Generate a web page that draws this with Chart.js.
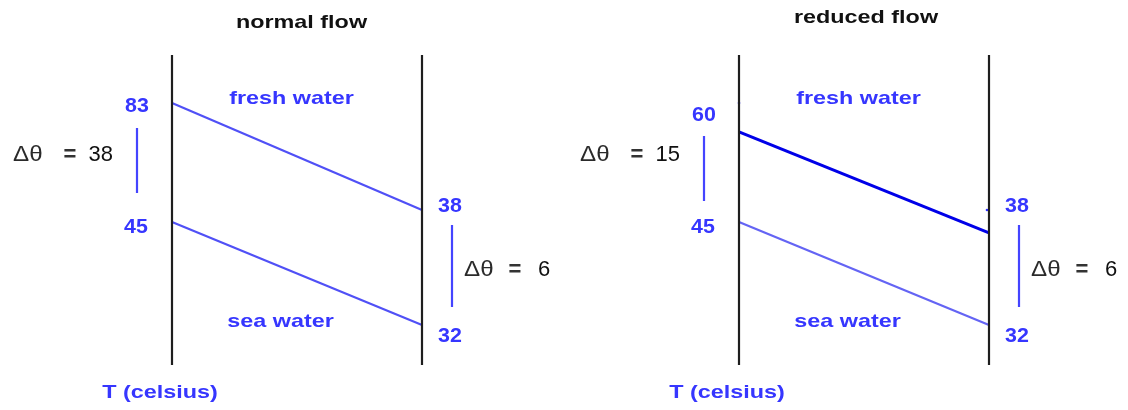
<!DOCTYPE html>
<html>
<head>
<meta charset="utf-8">
<script src="https://cdn.jsdelivr.net/npm/chart.js@4/dist/chart.umd.min.js"></script>
<style>
  html, body { margin: 0; padding: 0; background: #ffffff; }
  #wrap { width: 1128px; height: 410px; display: flex; }
  canvas { display: block; }
</style>
</head>
<body>
<div id="wrap">
  <canvas id="c0" width="564" height="410"></canvas>
  <canvas id="c1" width="564" height="410"></canvas>
</div>
<script>
// ---- data ----
const panelTitles   = ['normal flow', 'reduced flow'];
const freshInTemp   = [83, 60];   // fresh water inlet temperature (°C)
const freshOutTemp  = [38, 38];   // fresh water outlet temperature (°C)
const seaInTemp     = [45, 45];   // sea water temperature at left wall (°C)
const seaOutTemp    = [32, 32];   // sea water temperature at right wall (°C)
const deltaLeft     = [38, 15];   // Δθ at left wall
const deltaRight    = [6, 6];     // Δθ at right wall
// schematic vertical level of each line end (0 = bottom of walls, 100 = top)
const freshLevelIn  = [84.5, 75.2];
const freshLevelOut = [50.0, 42.6];
const seaLevelIn    = [46.1, 46.1];
const seaLevelOut   = [12.9, 12.9];
const wallX         = [0, 1];     // inlet wall, outlet wall
const wallLevels    = [0, 100];

const BLUE_TXT = '#3636ff';
const SX = 1.23;

function txt(ctx, s, x, y, font, color, align, sx) {
  ctx.save();
  ctx.font = font;
  ctx.fillStyle = color;
  ctx.textBaseline = 'alphabetic';
  ctx.textAlign = 'left';
  const w = ctx.measureText(s).width * sx;
  let x0 = x;
  if (align === 'center') x0 = x - w / 2;
  else if (align === 'right') x0 = x - w;
  ctx.translate(x0, y);
  ctx.scale(sx, 1);
  ctx.fillText(s, 0, 0);
  ctx.restore();
}

function makeChart(p) {
  const ctxEl = document.getElementById('c' + p);
  const datasets = [];
  wallX.forEach(function (wx, i) {
    datasets.push({
      label: i === 0 ? 'inlet wall' : 'outlet wall',
      data: wallLevels.map(function (lv) { return { x: wx, y: lv }; }),
      borderColor: '#1e1e1e', borderWidth: 2.2, pointRadius: 0, showLine: true, clip: false
    });
  });
  datasets.push({
    label: 'sea water',
    data: [{ x: wallX[0], y: seaLevelIn[p] }, { x: wallX[1], y: seaLevelOut[p] }],
    borderColor: p === 0 ? '#5050f6' : '#6464f4', borderWidth: 2.2, pointRadius: 0, showLine: true, clip: false
  });
  datasets.push({
    label: 'fresh water',
    data: [{ x: wallX[0], y: freshLevelIn[p] }, { x: wallX[1], y: freshLevelOut[p] }],
    borderColor: p === 0 ? '#5050f6' : '#0000e8', borderWidth: p === 0 ? 2.2 : 3, pointRadius: 0, showLine: true, clip: false
  });
  if (p === 1) {
    // faint remnants of the normal-flow fresh water line ends
    datasets.push({
      label: 'previous fresh water ends',
      data: [{ x: wallX[0], y: freshLevelIn[0] }, { x: wallX[1] - 0.008, y: freshLevelOut[0] }],
      borderColor: '#3030ff', backgroundColor: '#3030ff', pointRadius: 1.3, pointBorderWidth: 0, showLine: false, clip: false
    });
  }

  const pad = p === 0 ? { left: 172, right: 142, top: 55, bottom: 45 }
                      : { left: 175, right: 139, top: 55, bottom: 45 };

  const textPlugin = {
    id: 'labels' + p,
    afterDatasetsDraw: function (chart) {
      const ctx = chart.ctx;
      const L = chart.chartArea.left, R = chart.chartArea.right;
      const bold19 = 'bold 19px "Liberation Sans", Arial, sans-serif';
      const bold21 = 'bold 21px "Liberation Sans", Arial, sans-serif';
      const bold22 = 'bold 22px "Liberation Sans", Arial, sans-serif';
      const reg22 = '22px "Liberation Sans", Arial, sans-serif';
      // title
      txt(ctx, panelTitles[p], L + (p === 0 ? 129.5 : 127), p === 0 ? 28 : 23, bold19, '#111', 'center', SX);
      // stream names
      txt(ctx, 'fresh water', L + 119.5, 104, bold19, BLUE_TXT, 'center', SX);
      txt(ctx, 'sea water', L + 108.5, 327, bold19, BLUE_TXT, 'center', SX);
      txt(ctx, 'T (celsius)', L - 12, 398, bold19, BLUE_TXT, 'center', SX);
      // temperatures
      txt(ctx, String(freshInTemp[p]), L - 35, p === 0 ? 112 : 121, bold21, BLUE_TXT, 'center', 1.02);
      txt(ctx, String(seaInTemp[p]), L - 36, 232.5, bold21, BLUE_TXT, 'center', 1.02);
      txt(ctx, String(freshOutTemp[p]), R + 28, 211.5, bold21, BLUE_TXT, 'center', 1.02);
      txt(ctx, String(seaOutTemp[p]), R + 28, 341.5, bold21, BLUE_TXT, 'center', 1.02);
      // delta bars
      ctx.save();
      ctx.strokeStyle = '#4444ff';
      ctx.lineWidth = 2.2;
      const bxL = L - 35, bxR = R + 30;
      ctx.beginPath();
      ctx.moveTo(bxL, p === 0 ? 128 : 136); ctx.lineTo(bxL, p === 0 ? 193 : 201);
      ctx.moveTo(bxR, 225); ctx.lineTo(bxR, 307);
      ctx.stroke();
      ctx.restore();
      // Δθ left
      txt(ctx, 'Δθ', bxL - 124, 161, reg22, '#2a2a2a', 'left', 1.1);
      txt(ctx, '=', bxL - 67, 161, bold22, '#333', 'center', 1);
      txt(ctx, String(deltaLeft[p]), bxL - 24, 161, reg22, '#111', 'right', 1.0);
      // Δθ right
      txt(ctx, 'Δθ', bxR + 12, 275.5, reg22, '#2a2a2a', 'left', 1.1);
      txt(ctx, '=', bxR + 63, 275.5, bold22, '#333', 'center', 1);
      txt(ctx, String(deltaRight[p]), bxR + 86, 275.5, reg22, '#111', 'left', 1.0);
    }
  };

  return new Chart(ctxEl, {
    type: 'scatter',
    data: { datasets: datasets },
    options: {
      responsive: false,
      animation: false,
      devicePixelRatio: 1,
      layout: { padding: pad },
      plugins: { legend: { display: false }, tooltip: { enabled: false }, title: { display: false } },
      scales: {
        x: { type: 'linear', min: 0, max: 1, display: false },
        y: { type: 'linear', min: 0, max: 100, display: false }
      },
      elements: { line: { tension: 0, borderCapStyle: 'butt' } }
    },
    plugins: [textPlugin]
  });
}
makeChart(0);
makeChart(1);
</script>
</body>
</html>
